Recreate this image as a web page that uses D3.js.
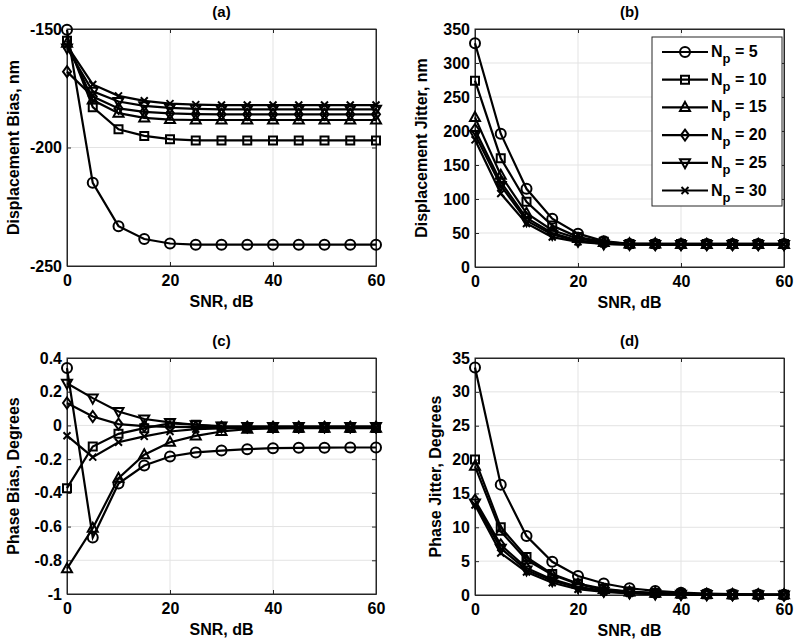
<!DOCTYPE html>
<html>
<head>
<meta charset="utf-8">
<script src="https://cdn.jsdelivr.net/npm/d3@7"></script>
<style>
  body { margin: 0; background: #fff; }
  text { font-family: "Liberation Sans", Arial, sans-serif; font-weight: bold; fill: #000; }
</style>
</head>
<body>
<div class="vis"></div>
<script>
// SNR sweep (dB)
const snr = [0, 5, 10, 15, 20, 25, 30, 35, 40, 45, 50, 55, 60];
const npValues = [5, 10, 15, 20, 25, 30];
const markerTypes = ["circle", "square", "triangle", "diamond", "triangleDown", "x"];

// (a) displacement bias, nm
const dispBias = [
  [-150.3, -214.9, -233.2, -238.6, -240.5, -241, -241, -241, -241, -241, -241, -241, -241],
  [-155, -183, -192.3, -195.1, -196.5, -197, -197, -197, -197, -197, -197, -197, -197],
  [-156, -180, -185.5, -187.5, -188.2, -188.4, -188.4, -188.4, -188.4, -188.4, -188.4, -188.4, -188.4],
  [-168, -178.5, -183.5, -185, -185.6, -185.9, -186, -186, -186, -186, -186, -186, -186],
  [-158, -176.3, -180.6, -182.4, -183.3, -183.7, -183.9, -183.9, -183.9, -183.9, -183.9, -183.9, -183.9],
  [-157, -173.4, -178.2, -180.3, -181.5, -181.9, -182.1, -182.1, -182.1, -182.1, -182.1, -182.1, -182.1]
];
// (b) displacement jitter, nm
const dispJitter = [
  [329, 196, 115, 71, 49, 38, 34, 34, 34, 34, 34, 34, 34],
  [274, 160, 96, 61, 44, 37, 34, 34, 34, 34, 34, 34, 34],
  [220, 135, 79, 54, 42, 36, 34, 34, 33, 33, 33, 33, 33],
  [202, 125, 72, 50, 39, 35, 34, 33, 33, 33, 33, 33, 33],
  [195, 120, 68, 48, 38, 34, 33, 33, 33, 33, 33, 33, 33],
  [187, 108, 64, 44, 37, 34, 33, 33, 33, 33, 33, 33, 33]
];
// (c) phase bias, degrees
const phaseBias = [
  [0.34, -0.665, -0.345, -0.238, -0.184, -0.16, -0.149, -0.141, -0.135, -0.133, -0.132, -0.131, -0.131],
  [-0.372, -0.125, -0.05, -0.016, 0.012, 0.004, -0.008, -0.012, -0.015, -0.015, -0.015, -0.015, -0.015],
  [-0.85, -0.61, -0.313, -0.174, -0.1, -0.062, -0.036, -0.022, -0.018, -0.016, -0.016, -0.016, -0.016],
  [0.133, 0.053, 0.008, -0.004, -0.008, -0.01, -0.01, -0.01, -0.01, -0.01, -0.01, -0.01, -0.01],
  [0.25, 0.162, 0.083, 0.038, 0.018, 0.004, -0.004, -0.006, -0.006, -0.006, -0.006, -0.006, -0.006],
  [-0.061, -0.188, -0.1, -0.065, -0.036, -0.022, -0.018, -0.016, -0.015, -0.015, -0.015, -0.015, -0.015]
];
// (d) phase jitter, degrees
const phaseJitter = [
  [33.6, 16.3, 8.7, 4.9, 2.8, 1.7, 1.0, 0.6, 0.35, 0.2, 0.12, 0.08, 0.05],
  [20, 10, 5.6, 3.1, 1.7, 0.9, 0.5, 0.3, 0.17, 0.1, 0.06, 0.04, 0.03],
  [19, 9.4, 5.2, 3.0, 1.6, 0.8, 0.45, 0.25, 0.15, 0.09, 0.05, 0.03, 0.02],
  [14, 7.4, 4.0, 2.3, 1.2, 0.6, 0.35, 0.2, 0.11, 0.06, 0.04, 0.02, 0.01],
  [13.6, 6.9, 3.7, 2.1, 1.1, 0.55, 0.3, 0.17, 0.1, 0.06, 0.03, 0.02, 0.01],
  [13.3, 6.2, 3.4, 1.8, 0.85, 0.45, 0.25, 0.14, 0.08, 0.05, 0.03, 0.02, 0.01]
];

const xTicks = [0, 20, 40, 60];
const dispBiasTicks = [-250, -200, -150];
const dispJitterTicks = [0, 50, 100, 150, 200, 250, 300, 350];
const phaseBiasTicks = [-1, -0.8, -0.6, -0.4, -0.2, 0, 0.2, 0.4];
const phaseJitterTicks = [0, 5, 10, 15, 20, 25, 30, 35];

const panels = [
  { title: "(a)", ylabel: "Displacement Bias, nm", data: dispBias, yTicks: dispBiasTicks,
    left: 67, top: 29, w: 309, h: 237, labelOff: -48 },
  { title: "(b)", ylabel: "Displacement Jitter, nm", data: dispJitter, yTicks: dispJitterTicks,
    left: 475, top: 29, w: 309, h: 238, labelOff: -48, legend: true },
  { title: "(c)", ylabel: "Phase Bias, Degrees", data: phaseBias, yTicks: phaseBiasTicks,
    left: 67, top: 358, w: 309, h: 236, labelOff: -48 },
  { title: "(d)", ylabel: "Phase Jitter, Degrees", data: phaseJitter, yTicks: phaseJitterTicks,
    left: 475, top: 358, w: 309, h: 237, labelOff: -34 }
];

const width = 800;
const height = 642;
const axisColor = "#262626";
const gridColor = "#e3e3e3";
const fmt = (d) => String(d);

const svg = d3.select(".vis").append("svg")
  .attr("width", width)
  .attr("height", height);

// marker path, centred on 0,0
function markerPath(type) {
  switch (type) {
    case "circle": return "M5,0A5,5 0 1,1 -5,0A5,5 0 1,1 5,0Z";
    case "square": return "M-4,-4H4V4H-4Z";
    case "triangle": return "M0,-5.5L5,3.5H-5Z";
    case "diamond": return "M0,-5.5L4,0L0,5.5L-4,0Z";
    case "triangleDown": return "M0,5.5L5,-3.5H-5Z";
    case "x": return "M-3.5,-3.5L3.5,3.5M-3.5,3.5L3.5,-3.5";
  }
}

panels.forEach((p) => {
  const g = svg.append("g").attr("transform", `translate(${p.left},${p.top})`);

  const x = d3.scaleLinear().domain([0, 60]).range([0, p.w]);
  const y = d3.scaleLinear().domain(d3.extent(p.yTicks)).range([p.h, 0]);

  // grid
  g.append("g").selectAll("line.gx").data(xTicks.slice(1, -1)).enter().append("line")
    .attr("x1", (d) => x(d)).attr("x2", (d) => x(d))
    .attr("y1", 0).attr("y2", p.h)
    .attr("stroke", gridColor).attr("stroke-width", 1);
  g.append("g").selectAll("line.gy").data(p.yTicks.slice(1, -1)).enter().append("line")
    .attr("x1", 0).attr("x2", p.w)
    .attr("y1", (d) => y(d)).attr("y2", (d) => y(d))
    .attr("stroke", gridColor).attr("stroke-width", 1);

  // axes, ticks pointing inward
  g.append("g").attr("transform", `translate(0,${p.h})`)
    .call(d3.axisBottom(x).tickValues(xTicks).tickFormat(fmt).tickSizeInner(-4).tickSizeOuter(0).tickPadding(9));
  g.append("g")
    .call(d3.axisLeft(y).tickValues(p.yTicks).tickFormat(fmt).tickSizeInner(-4).tickSizeOuter(0).tickPadding(5));
  g.append("g").call(d3.axisTop(x).tickValues(xTicks).tickFormat("").tickSizeInner(-4).tickSizeOuter(0));
  g.append("g").attr("transform", `translate(${p.w},0)`)
    .call(d3.axisRight(y).tickValues(p.yTicks).tickFormat("").tickSizeInner(-4).tickSizeOuter(0));
  g.selectAll(".domain, .tick line").attr("stroke", axisColor);
  g.selectAll(".tick text").attr("font-size", 16).attr("font-family", null);

  g.append("rect")
    .attr("width", p.w).attr("height", p.h)
    .attr("fill", "none").attr("stroke", axisColor).attr("stroke-width", 1);

  // series
  const line = d3.line().x((d, i) => x(snr[i])).y((d) => y(d));
  p.data.forEach((vals, k) => {
    const s = g.append("g");
    s.append("path").datum(vals)
      .attr("d", line)
      .attr("fill", "none")
      .attr("stroke", "#000")
      .attr("stroke-width", 2.2);
    s.selectAll("path.m").data(vals).enter().append("path")
      .attr("class", "m")
      .attr("transform", (d, i) => `translate(${x(snr[i])},${y(d)})`)
      .attr("d", markerPath(markerTypes[k]))
      .attr("fill", "none")
      .attr("stroke", "#000")
      .attr("stroke-width", 2);
  });

  // labels
  g.append("text")
    .attr("x", p.w / 2).attr("y", -12)
    .attr("text-anchor", "middle")
    .attr("font-size", 15)
    .text(p.title);
  g.append("text")
    .attr("x", p.w / 2).attr("y", p.h + 41)
    .attr("text-anchor", "middle")
    .attr("font-size", 16)
    .text("SNR, dB");
  g.append("text")
    .attr("transform", `translate(${p.labelOff},${p.h / 2}) rotate(-90)`)
    .attr("text-anchor", "middle")
    .attr("font-size", 16)
    .text(p.ylabel);

  if (p.legend) {
    const lg = g.append("g").attr("transform", `translate(${652 - p.left},${37 - p.top})`);
    lg.append("rect")
      .attr("width", 130).attr("height", 169)
      .attr("fill", "#fff").attr("stroke", axisColor).attr("stroke-width", 1);
    npValues.forEach((n, k) => {
      const ry = 15 + k * 27.7;
      const row = lg.append("g").attr("transform", `translate(0,${ry})`);
      row.append("line").attr("x1", 10).attr("x2", 56)
        .attr("stroke", "#000").attr("stroke-width", 2.2);
      row.append("path").attr("transform", "translate(33,0)")
        .attr("d", markerPath(markerTypes[k]))
        .attr("fill", "none").attr("stroke", "#000").attr("stroke-width", 2);
      const t = row.append("text").attr("x", 59).attr("y", 5).attr("font-size", 16);
      t.append("tspan").text("N");
      t.append("tspan").attr("dy", 6).attr("font-size", 13).text("p");
      t.append("tspan").attr("dy", -6).text(" = " + n);
    });
  }
});
</script>
</body>
</html>
